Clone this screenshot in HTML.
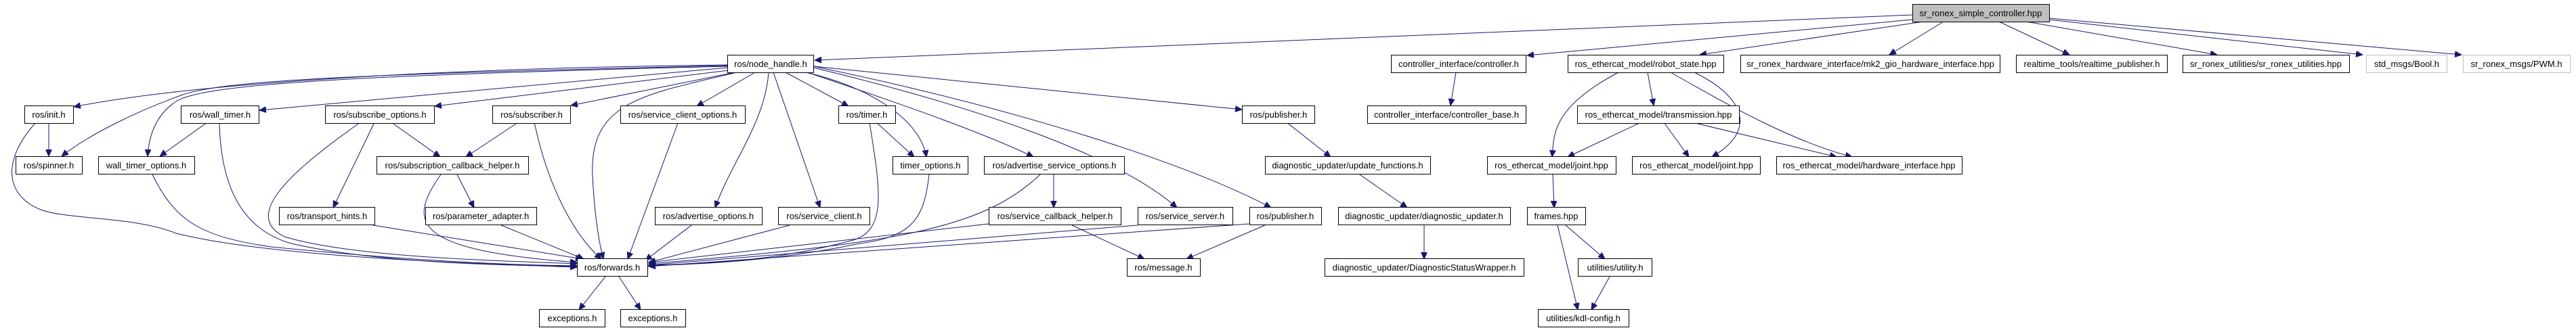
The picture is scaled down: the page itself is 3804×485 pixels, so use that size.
<!DOCTYPE html>
<html><head><meta charset="utf-8"><style>
html,body{margin:0;padding:0;background:#fff}
svg{display:block}
text{font-family:"Liberation Sans Narrow","Liberation Sans",sans-serif;font-size:13px;fill:#000}
.n{fill:#fff;stroke:#000;stroke-width:1}
.g{fill:#fff;stroke:#bfbfbf;stroke-width:1}
.e{fill:none;stroke:#191970;stroke-width:1}
</style></head><body>
<svg width="3804" height="485" viewBox="0 0 3804 485" xmlns="http://www.w3.org/2000/svg">
<defs><marker id="a" markerUnits="userSpaceOnUse" markerWidth="11" markerHeight="9" refX="10" refY="4.5" orient="auto"><path d="M0,0 L10,4.5 L0,9 Z" fill="#191970" stroke="#191970"/></marker></defs>
<g class="e" marker-end="url(#a)">
<path d="M2824,22 L1203,89"/>
<path d="M2824,29 L2255,82"/>
<path d="M2840,32 L2510,81"/>
<path d="M2870,32 L2790,81"/>
<path d="M2952,32 L3056,81"/>
<path d="M2992,32 L3274,81"/>
<path d="M3026,29 L3489,81"/>
<path d="M3026,27 L3635,81"/>
<path d="M1074,96 C700,100 300,120 109,158"/>
<path d="M1074,97 C500,110 330,120 270,140 C200,165 130,200 91,231"/>
<path d="M1074,98 C500,112 300,125 260,150 C230,170 220,200 218,231"/>
<path d="M1074,100 L383,163"/>
<path d="M1076,104 L642,157"/>
<path d="M1085,107 L843,156"/>
<path d="M1088,107 C950,140 870,150 875,260 C878,320 885,360 891,383"/>
<path d="M1115,107 L1029,157"/>
<path d="M1135,107 C1130,180 1080,240 1056,307"/>
<path d="M1142,107 L1211,307"/>
<path d="M1160,107 L1253,157"/>
<path d="M1190,107 C1290,130 1360,180 1368,232"/>
<path d="M1192,107 C1350,160 1460,200 1526,232"/>
<path d="M1201,100 C1450,160 1650,230 1738,307"/>
<path d="M1201,98 C1500,160 1750,240 1877,307"/>
<path d="M1201,98 L1834,162"/>
<path d="M53,181 C0,240 10,290 60,310 C100,325 200,320 260,345 C400,380 700,390 852,395"/>
<path d="M72,181 L72,231"/>
<path d="M306,181 L236,231"/>
<path d="M324,181 C326,280 360,340 430,360 C560,390 750,392 852,394"/>
<path d="M225,258 C260,330 300,350 400,365 C600,385 750,392 852,393"/>
<path d="M532,181 C420,260 360,320 420,350 C520,380 720,385 852,390"/>
<path d="M553,181 L492,307"/>
<path d="M578,181 L650,232"/>
<path d="M765,181 L688,232"/>
<path d="M789,181 C810,280 850,350 888,383"/>
<path d="M651,258 C600,330 610,370 852,388"/>
<path d="M675,258 L700,307"/>
<path d="M551,333 L860,383"/>
<path d="M740,333 L862,383"/>
<path d="M1001,182 L927,383"/>
<path d="M1021,333 L953,385"/>
<path d="M1166,333 L958,388"/>
<path d="M1284,181 C1300,280 1310,340 1260,355 C1150,385 1050,390 958,392"/>
<path d="M1294,181 L1350,232"/>
<path d="M1372,258 C1365,320 1350,350 1270,360 C1150,385 1050,390 958,393"/>
<path d="M1536,258 C1450,340 1320,360 958,390"/>
<path d="M1556,258 L1556,307"/>
<path d="M1460,331 L958,388"/>
<path d="M1583,333 L1690,383"/>
<path d="M1680,333 L958,392"/>
<path d="M1845,331 L958,394"/>
<path d="M1868,333 L1752,383"/>
<path d="M1900,181 L1965,232"/>
<path d="M2008,258 L2078,307"/>
<path d="M2103,333 L2103,383"/>
<path d="M894,409 L855,458"/>
<path d="M914,409 L946,458"/>
<path d="M2150,107 L2142,156"/>
<path d="M2390,107 C2290,160 2295,200 2292,232"/>
<path d="M2433,107 L2442,156"/>
<path d="M2502,107 C2570,140 2600,190 2528,232"/>
<path d="M2467,107 C2560,160 2650,210 2735,232"/>
<path d="M2423,181 L2315,232"/>
<path d="M2457,181 L2494,232"/>
<path d="M2499,181 L2712,232"/>
<path d="M2293,258 L2295,307"/>
<path d="M2312,333 L2370,383"/>
<path d="M2300,333 L2330,458"/>
<path d="M2377,409 L2350,458"/>
</g>
<g>
<rect x="2824.5" y="6.5" width="202" height="26" fill="#bfbfbf" stroke="#000"/><text x="2925" y="24" text-anchor="middle">sr_ronex_simple_controller.hpp</text>
<rect class="n" x="1074.5" y="81.5" width="127" height="26"/><text x="1138" y="99" text-anchor="middle">ros/node_handle.h</text>
<rect class="n" x="2054.5" y="81.5" width="199" height="26"/><text x="2154" y="99" text-anchor="middle">controller_interface/controller.h</text>
<rect class="n" x="2315.5" y="81.5" width="230" height="26"/><text x="2430" y="99" text-anchor="middle">ros_ethercat_model/robot_state.hpp</text>
<rect class="n" x="2570.5" y="81.5" width="383" height="26"/><text x="2762" y="99" text-anchor="middle">sr_ronex_hardware_interface/mk2_gio_hardware_interface.hpp</text>
<rect class="n" x="2977.5" y="81.5" width="223" height="26"/><text x="3089" y="99" text-anchor="middle">realtime_tools/realtime_publisher.h</text>
<rect class="n" x="3223.5" y="81.5" width="246" height="26"/><text x="3346" y="99" text-anchor="middle">sr_ronex_utilities/sr_ronex_utilities.hpp</text>
<rect class="g" x="3494.5" y="81.5" width="119" height="26"/><text x="3554" y="99" text-anchor="middle">std_msgs/Bool.h</text>
<rect class="g" x="3637.5" y="81.5" width="158" height="26"/><text x="3716" y="99" text-anchor="middle">sr_ronex_msgs/PWM.h</text>

<rect class="n" x="36.5" y="156.5" width="72" height="26"/><text x="72" y="174" text-anchor="middle">ros/init.h</text>
<rect class="n" x="267.5" y="156.5" width="115" height="26"/><text x="325" y="174" text-anchor="middle">ros/wall_timer.h</text>
<rect class="n" x="480.5" y="156.5" width="161" height="26"/><text x="561" y="174" text-anchor="middle">ros/subscribe_options.h</text>
<rect class="n" x="727.5" y="156.5" width="115" height="26"/><text x="785" y="174" text-anchor="middle">ros/subscriber.h</text>
<rect class="n" x="916.5" y="156.5" width="184" height="26"/><text x="1008" y="174" text-anchor="middle">ros/service_client_options.h</text>
<rect class="n" x="1238.5" y="156.5" width="84" height="26"/><text x="1280" y="174" text-anchor="middle">ros/timer.h</text>
<rect class="n" x="1834.5" y="156.5" width="107" height="26"/><text x="1888" y="174" text-anchor="middle">ros/publisher.h</text>
<rect class="n" x="2019.5" y="156.5" width="234" height="26"/><text x="2136" y="174" text-anchor="middle">controller_interface/controller_base.h</text>
<rect class="n" x="2329.5" y="156.5" width="239" height="26"/><text x="2449" y="174" text-anchor="middle">ros_ethercat_model/transmission.hpp</text>

<rect class="n" x="23.5" y="231.5" width="98" height="26"/><text x="72" y="249" text-anchor="middle">ros/spinner.h</text>
<rect class="n" x="145.5" y="231.5" width="142" height="26"/><text x="216" y="249" text-anchor="middle">wall_timer_options.h</text>
<rect class="n" x="556.5" y="231.5" width="224" height="26"/><text x="668" y="249" text-anchor="middle">ros/subscription_callback_helper.h</text>
<rect class="n" x="1318.5" y="231.5" width="111" height="26"/><text x="1374" y="249" text-anchor="middle">timer_options.h</text>
<rect class="n" x="1453.5" y="231.5" width="207" height="26"/><text x="1557" y="249" text-anchor="middle">ros/advertise_service_options.h</text>
<rect class="n" x="1868.5" y="231.5" width="244" height="26"/><text x="1990" y="249" text-anchor="middle">diagnostic_updater/update_functions.h</text>
<rect class="n" x="2196.5" y="231.5" width="190" height="26"/><text x="2291" y="249" text-anchor="middle">ros_ethercat_model/joint.hpp</text>
<rect class="n" x="2410.5" y="231.5" width="189" height="26"/><text x="2505" y="249" text-anchor="middle">ros_ethercat_model/joint.hpp</text>
<rect class="n" x="2623.5" y="231.5" width="274" height="26"/><text x="2760" y="249" text-anchor="middle">ros_ethercat_model/hardware_interface.hpp</text>

<rect class="n" x="412.5" y="306.5" width="141" height="26"/><text x="483" y="324" text-anchor="middle">ros/transport_hints.h</text>
<rect class="n" x="628.5" y="306.5" width="164" height="26"/><text x="710" y="324" text-anchor="middle">ros/parameter_adapter.h</text>
<rect class="n" x="967.5" y="306.5" width="158" height="26"/><text x="1046" y="324" text-anchor="middle">ros/advertise_options.h</text>
<rect class="n" x="1149.5" y="306.5" width="135" height="26"/><text x="1217" y="324" text-anchor="middle">ros/service_client.h</text>
<rect class="n" x="1460.5" y="306.5" width="195" height="26"/><text x="1558" y="324" text-anchor="middle">ros/service_callback_helper.h</text>
<rect class="n" x="1680.5" y="306.5" width="140" height="26"/><text x="1750" y="324" text-anchor="middle">ros/service_server.h</text>
<rect class="n" x="1845.5" y="306.5" width="106" height="26"/><text x="1898" y="324" text-anchor="middle">ros/publisher.h</text>
<rect class="n" x="1976.5" y="306.5" width="254" height="26"/><text x="2103" y="324" text-anchor="middle">diagnostic_updater/diagnostic_updater.h</text>
<rect class="n" x="2255.5" y="306.5" width="86" height="26"/><text x="2298" y="324" text-anchor="middle">frames.hpp</text>

<rect class="n" x="852.5" y="382.5" width="104" height="26"/><text x="904" y="400" text-anchor="middle">ros/forwards.h</text>
<rect class="n" x="1664.5" y="382.5" width="108" height="26"/><text x="1718" y="400" text-anchor="middle">ros/message.h</text>
<rect class="n" x="1956.5" y="382.5" width="294" height="26"/><text x="2103" y="400" text-anchor="middle">diagnostic_updater/DiagnosticStatusWrapper.h</text>
<rect class="n" x="2330.5" y="382.5" width="109" height="26"/><text x="2385" y="400" text-anchor="middle">utilities/utility.h</text>

<rect class="n" x="796.5" y="457.5" width="97" height="26"/><text x="845" y="475" text-anchor="middle">exceptions.h</text>
<rect class="n" x="916.5" y="457.5" width="96" height="26"/><text x="964" y="475" text-anchor="middle">exceptions.h</text>
<rect class="n" x="2271.5" y="457.5" width="134" height="26"/><text x="2338" y="475" text-anchor="middle">utilities/kdl-config.h</text>
</g>
</svg>
</body></html>
